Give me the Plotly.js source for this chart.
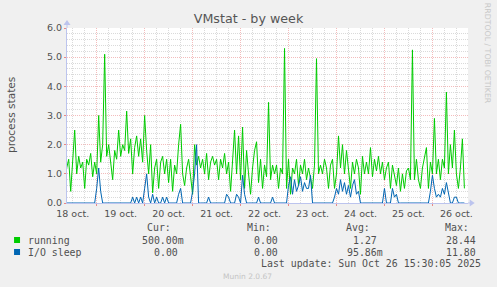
<!DOCTYPE html>
<html>
<head>
<meta charset="utf-8">
<script src="https://cdn.plot.ly/plotly-3.0.1.min.js"></script>
<style>
  html, body { margin: 0; padding: 0; background: #f0f0f0; }
  #chart { width: 497px; height: 287px; }
</style>
</head>
<body>
<div id="chart"></div>
<script>
// ---- data (hourly samples) ----
const startTime = '2025-10-18T09:00:00';
const stepHours = 1;

const running = [
  1.2,1.5,0.4,1.3,2.5,1.0,1.6,1.2,1.4,0.5,
  1.5,1.3,1.7,0.9,1.4,1.0,3.0,1.4,2.0,5.1,
  1.6,2.0,1.4,0.8,1.8,1.5,2.5,1.6,2.0,1.8,
  3.15,1.7,2.2,1.0,1.9,2.3,1.6,2.2,1.4,3.0,
  1.8,1.0,2.0,0.35,1.2,1.5,0.5,1.4,1.6,1.0,
  1.5,0.7,1.5,0.4,1.3,1.0,2.0,2.7,1.0,0.6,
  1.2,1.5,0.9,0.3,2.0,1.3,1.6,1.2,1.5,1.0,
  1.7,0.8,1.4,1.6,1.3,1.5,0.8,1.5,1.2,1.7,
  1.0,1.4,0.4,1.5,2.5,1.0,2.3,0.8,2.6,0.5,
  1.8,1.0,0.3,1.2,1.8,2.1,0.7,1.5,0.5,1.3,
  0.9,3.45,0.8,1.3,1.0,1.3,0.5,1.2,1.0,5.3,
  0.5,1.5,0.3,1.2,1.0,1.5,0.6,1.3,1.0,1.5,
  0.8,1.2,0.9,0.5,1.3,4.95,1.0,1.3,1.0,1.5,
  1.2,0.5,1.3,1.5,0.5,1.0,2.3,1.2,2.0,1.0,
  1.8,1.2,0.5,1.4,1.0,1.5,1.2,0.3,1.6,1.0,
  1.4,1.0,1.9,0.9,1.5,1.1,1.6,1.0,1.4,0.8,
  1.2,1.4,0.5,1.3,1.0,0.6,1.2,0.4,1.0,0.5,
  1.1,1.2,0.8,5.25,0.8,1.5,0.8,0.5,1.2,1.6,
  1.9,0.5,1.4,1.0,2.9,1.0,1.5,0.8,1.5,1.2,
  3.8,1.0,2.0,1.2,2.5,1.0,0.5,1.2,2.2,0.5
];

const ioSleep = [
  0,0,0,0,0,0,0,0,0,0,
  0,0,0,0,0,0.5,1.2,0.4,0,0,
  0,0,0,0,0,0,0,0,0,0,
  0,0,0,0.2,0,0.2,0,0.2,0,0.5,
  1.0,0.2,0,0.3,0,0.2,0,0,0.2,0,
  0.2,0,0,0,0,0,0.3,0.5,0,0,
  0,0,0,0.4,1.0,2.0,0,0,0,0,
  0,0.2,0,0,0,0,0,0,0,0,
  0.3,0.2,0,0,0,0.3,0.2,0,0.95,0.3,
  0,0,0,0,0,0,0.2,0,0,0,
  0,0,0,0.2,0,0,0,0,0,0,
  0,0.6,0.9,0.3,0.8,0.4,0.6,0.9,0.4,0.7,
  0.5,0.5,0.95,0,0,0,0,0,0,0,
  0,0,0,0,0.2,0.5,0.3,0.8,0.4,0.7,
  0.3,0.6,0.2,0.6,0.8,0.3,0.4,0,0,0,
  0,0,0,0,0,0,0,0,0,0.5,
  0,0,0,0.5,0.2,0.3,0,0,0,0,
  0,0,0,0,0,0,0,0,0,0,
  0,0,0.4,0.95,0.5,0.2,0.3,0.2,0.5,0.3,
  0.7,0.4,0,0,0.2,0.2,0,0,0,0
];

const seriesNames = ['running', 'I/O sleep'];
const seriesColors = ['#00cc00', '#0066b3'];
const curValues = ['500.00m', '0.00'];
const minValues = ['0.00', '0.00'];
const avgValues = ['1.27', '95.86m'];
const maxValues = ['28.44', '11.80'];
const colHeaders = ['Cur:', 'Min:', 'Avg:', 'Max:'];
const lastUpdate = 'Last update: Sun Oct 26 15:30:05 2025';
const xRange = ['2025-10-18 09:09', '2025-10-26 17:48'];

// ---- sample times ----
function pad(n){ return (n < 10 ? '0' : '') + n; }
const t0 = new Date(startTime + 'Z').getTime();
const times = running.map((_, i) => {
  const d = new Date(t0 + i * stepHours * 3600000);
  return d.getUTCFullYear() + '-' + pad(d.getUTCMonth()+1) + '-' + pad(d.getUTCDate()) +
         ' ' + pad(d.getUTCHours()) + ':' + pad(d.getUTCMinutes());
});

// ---- pixel helpers for decorations ----
const W = 497, H = 287;
const L = 67, R = 468.3, T = 28, B = 203;
const px = x => (x - L) / (R - L);
const py = y => (B - y) / (B - T);

const textCol = '#505050';
const mono = 'DejaVu Sans Mono';
const sans = 'DejaVu Sans';
const axisCol = '#bcc4ee';
const majorGrid = '#f3bcbc';
const minorGrid = '#dadada';

const traces = [
  { x: times, y: running, type: 'scatter', mode: 'lines', name: seriesNames[0],
    line: { color: seriesColors[0], width: 1 }, cliponaxis: false },
  { x: times, y: ioSleep, type: 'scatter', mode: 'lines', name: seriesNames[1],
    line: { color: seriesColors[1], width: 1 }, cliponaxis: false }
];

// legend table
const annotations = [];
const colRight = [185, 285, 384, 483];
const charW = 5.95;
colHeaders.forEach((h, c) => {
  annotations.push({ text: h, xref: 'paper', yref: 'paper', x: px(colRight[c] - 13), y: py(227.5),
    xanchor: 'right', yanchor: 'middle', showarrow: false, borderpad: 0,
    font: { family: mono, size: 9.9, color: textCol } });
});
const rowsY = [240, 252];
seriesNames.forEach((n, r) => {
  annotations.push({ text: n, xref: 'paper', yref: 'paper', x: px(27), y: py(rowsY[r]),
    xanchor: 'left', yanchor: 'middle', showarrow: false, borderpad: 0,
    font: { family: mono, size: 9.9, color: textCol } });
  [curValues[r], minValues[r], avgValues[r], maxValues[r]].forEach((v, c) => {
    const hasSuffix = /[a-zA-Z]$/.test(v);
    annotations.push({ text: v, xref: 'paper', yref: 'paper',
      x: px(colRight[c] - (hasSuffix ? 0 : charW)), y: py(rowsY[r]),
      xanchor: 'right', yanchor: 'middle', showarrow: false, borderpad: 0,
      font: { family: mono, size: 9.9, color: textCol } });
  });
});
annotations.push({ text: lastUpdate, xref: 'paper', yref: 'paper', x: px(482), y: py(263.5),
  xanchor: 'right', yanchor: 'middle', showarrow: false, borderpad: 0,
  font: { family: mono, size: 9.9, color: textCol } });
annotations.push({ text: 'Munin 2.0.67', xref: 'paper', yref: 'paper', x: px(248), y: py(276),
  xanchor: 'center', yanchor: 'middle', showarrow: false, borderpad: 0,
  font: { family: sans, size: 7.5, color: '#c4c4c4' } });
annotations.push({ text: 'RRDTOOL / TOBI OETIKER', xref: 'paper', yref: 'paper', x: px(488.5), y: py(53),
  xanchor: 'center', yanchor: 'middle', textangle: 90, showarrow: false, borderpad: 0,
  font: { family: sans, size: 7.8, color: '#c8c8c8' } });
annotations.push({ text: 'process states', xref: 'paper', yref: 'paper', x: px(11), y: py(115),
  xanchor: 'center', yanchor: 'middle', textangle: -90, showarrow: false, borderpad: 0,
  font: { family: sans, size: 10.6, color: textCol } });

const shapes = [];
seriesColors.forEach((c, r) => {
  shapes.push({ type: 'rect', xref: 'paper', yref: 'paper',
    x0: px(14), x1: px(20), y0: py(rowsY[r] + 3), y1: py(rowsY[r] - 3),
    fillcolor: c, line: { width: 0 } });
});
// axis extensions and arrows
shapes.push({ type: 'line', xref: 'paper', yref: 'paper', x0: px(R), x1: px(471), y0: 0, y1: 0,
  line: { color: axisCol, width: 1 } });
shapes.push({ type: 'path', xref: 'paper', yref: 'paper',
  path: `M ${px(470)} ${py(199.5)} L ${px(475)} ${py(203)} L ${px(470)} ${py(206.5)} Z`,
  fillcolor: axisCol, line: { width: 0 } });
shapes.push({ type: 'line', xref: 'paper', yref: 'paper', x0: 0, x1: 0, y0: 1, y1: py(24),
  line: { color: axisCol, width: 1 } });
shapes.push({ type: 'path', xref: 'paper', yref: 'paper',
  path: `M ${px(63.5)} ${py(25)} L ${px(67)} ${py(20)} L ${px(70.5)} ${py(25)} Z`,
  fillcolor: axisCol, line: { width: 0 } });

const layout = {
  width: W, height: H,
  margin: { l: L, r: W - R, t: T, b: H - B, pad: 0 },
  paper_bgcolor: '#f0f0f0',
  plot_bgcolor: '#ffffff',
  showlegend: false,
  title: { text: 'VMstat - by week', x: 0.5, xanchor: 'center', y: 1 - 19 / H, yanchor: 'middle',
    font: { family: sans, size: 12.7, color: '#555555' } },
  xaxis: {
    type: 'date', range: xRange, fixedrange: true,
    tick0: '2025-10-18', dtick: 86400000, ticklabelmode: 'period', tickformat: '%d oct.',
    tickfont: { family: sans, size: 9.5, color: textCol },
    ticks: 'outside', ticklen: 2, tickcolor: '#e88888',
    showgrid: true, gridcolor: majorGrid, griddash: '1px,1px', gridwidth: 1,
    minor: { dtick: 6 * 3600000, showgrid: true, gridcolor: minorGrid, griddash: '1px,1px', gridwidth: 1 },
    showline: true, linecolor: axisCol, linewidth: 1, zeroline: false
  },
  yaxis: {
    range: [0, 6], fixedrange: true, tick0: 0, dtick: 1, tickformat: '.1f',
    tickfont: { family: sans, size: 9.5, color: textCol },
    ticks: 'outside', ticklen: 2, tickcolor: '#e88888',
    showgrid: true, gridcolor: majorGrid, griddash: '1px,1px', gridwidth: 1,
    minor: { dtick: 0.2, showgrid: true, gridcolor: minorGrid, griddash: '1px,1px', gridwidth: 1 },
    showline: true, linecolor: axisCol, linewidth: 1, zeroline: false
  },
  annotations: annotations,
  shapes: shapes
};

Plotly.newPlot('chart', traces, layout, { staticPlot: true, displayModeBar: false });
</script>
</body>
</html>
